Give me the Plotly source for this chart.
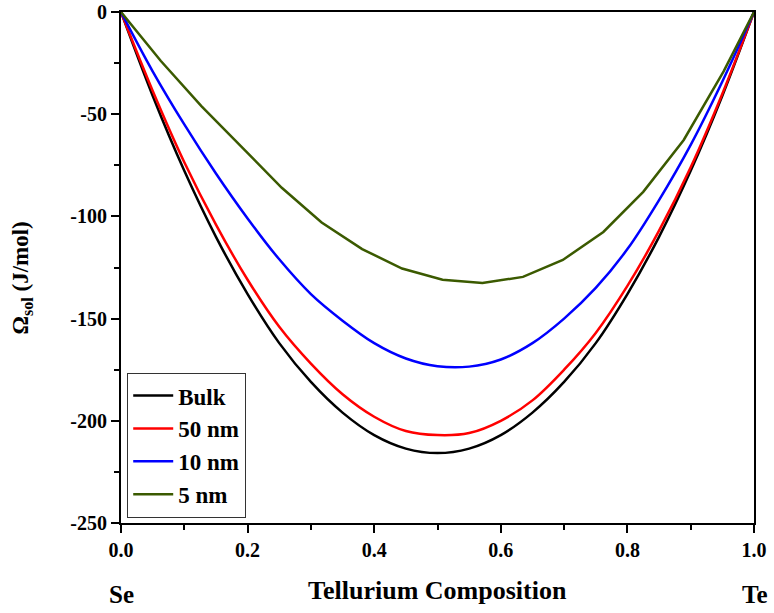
import plotly.graph_objects as go

# Tellurium composition for smooth curves
x_smooth = [0.0, 0.05, 0.1, 0.15, 0.2, 0.25, 0.3, 0.35, 0.4, 0.45, 0.5,
            0.55, 0.6, 0.65, 0.7, 0.75, 0.8, 0.85, 0.9, 0.95, 1.0]
bulk = [0, -41, -77.7, -110, -138, -162, -181, -196, -207, -213.6, -215.8,
        -213.6, -207, -196, -181, -162, -138, -110, -77.7, -41, 0]
nm50 = [0, -38.5, -73.5, -104, -131, -154, -172, -187, -198, -205, -207,
        -206, -200, -190, -175, -157, -134, -107, -76, -40, 0]
nm10 = [0, -29, -55, -79, -101, -121, -138, -151, -162, -169.5, -173.3,
        -173.5, -170, -162, -150, -135, -116, -92, -65, -34, 0]

# 5 nm curve (piecewise, coarser sampling)
x_5nm = [0.0, 0.063, 0.127, 0.19, 0.254, 0.317, 0.381, 0.444, 0.508, 0.571,
         0.635, 0.698, 0.762, 0.825, 0.889, 0.952, 1.0]
nm5 = [0, -24, -46, -66, -86, -103, -116, -125.5, -131, -132.6,
       -129.6, -121.3, -107.6, -88, -62.6, -29, 0]

x_ticks = [0.0, 0.2, 0.4, 0.6, 0.8, 1.0]
x_ticklabels = ["0.0", "0.2", "0.4", "0.6", "0.8", "1.0"]
y_ticks = [0, -50, -100, -150, -200, -250]

FONT = "Liberation Serif"

fig = go.Figure()
fig.add_trace(go.Scatter(x=x_smooth, y=bulk, mode="lines", name="<b>Bulk</b>",
                         line=dict(color="#000000", width=2.5, shape="spline")))
fig.add_trace(go.Scatter(x=x_smooth, y=nm50, mode="lines", name="<b>50 nm</b>",
                         line=dict(color="#ff0000", width=2.5, shape="spline")))
fig.add_trace(go.Scatter(x=x_smooth, y=nm10, mode="lines", name="<b>10 nm</b>",
                         line=dict(color="#0000ff", width=2.5, shape="spline")))
fig.add_trace(go.Scatter(x=x_5nm, y=nm5, mode="lines", name="<b>5 nm</b>",
                         line=dict(color="#3b5a00", width=2.5)))

fig.update_layout(
    width=774, height=613,
    margin=dict(l=121, r=20, t=12, b=90),
    paper_bgcolor="white", plot_bgcolor="white",
    font=dict(family=FONT, color="black"),
    showlegend=True,
    legend=dict(x=0.0095, y=0.01, xanchor="left", yanchor="bottom",
                bordercolor="#333333", borderwidth=1.2, bgcolor="white",
                font=dict(family=FONT, size=23, color="black"),
                tracegroupgap=0, itemwidth=40),
    xaxis=dict(range=[0, 1], tickvals=x_ticks, ticktext=[f"<b>{t}</b>" for t in x_ticklabels],
               ticks="outside", ticklen=8, tickwidth=2, tickcolor="black",
               minor=dict(dtick=0.1, ticks="outside", ticklen=5, tickwidth=2, tickcolor="black"),
               showline=True, linecolor="black", linewidth=2, mirror=True,
               showgrid=False, zeroline=False, automargin=False,
               tickfont=dict(family=FONT, size=20, color="black")),
    yaxis=dict(range=[-250, 0], tickvals=y_ticks, ticktext=[f"<b>{t}</b>" for t in y_ticks],
               ticks="outside", ticklen=8, tickwidth=2, tickcolor="black",
               minor=dict(dtick=25, ticks="outside", ticklen=5, tickwidth=2, tickcolor="black"),
               showline=True, linecolor="black", linewidth=2, mirror=True,
               showgrid=False, zeroline=False, automargin=False,
               tickfont=dict(family=FONT, size=20, color="black")),
)

fig.add_annotation(x=0.5, y=-0.133, xref="paper", yref="paper",
                   text="<b>Tellurium Composition</b>",
                   showarrow=False, xanchor="center", yanchor="middle",
                   font=dict(family=FONT, size=26, color="black"))
fig.add_annotation(x=-0.156, y=0.479, xref="paper", yref="paper",
                   text="<b>Ω<sub>sol</sub> (J/mol)</b>", textangle=-90,
                   showarrow=False, xanchor="center", yanchor="middle",
                   font=dict(family=FONT, size=23, color="black"))
fig.add_annotation(x=0, y=-0.14, xref="paper", yref="paper", text="<b>Se</b>",
                   showarrow=False, xanchor="center", yanchor="middle",
                   font=dict(family=FONT, size=25, color="black"))
fig.add_annotation(x=1, y=-0.14, xref="paper", yref="paper", text="<b>Te</b>",
                   showarrow=False, xanchor="center", yanchor="middle",
                   font=dict(family=FONT, size=25, color="black"))

fig.write_html("out.html", config={"displayModeBar": False},
               post_script="document.body.style.margin='0';document.body.style.padding='0';")
